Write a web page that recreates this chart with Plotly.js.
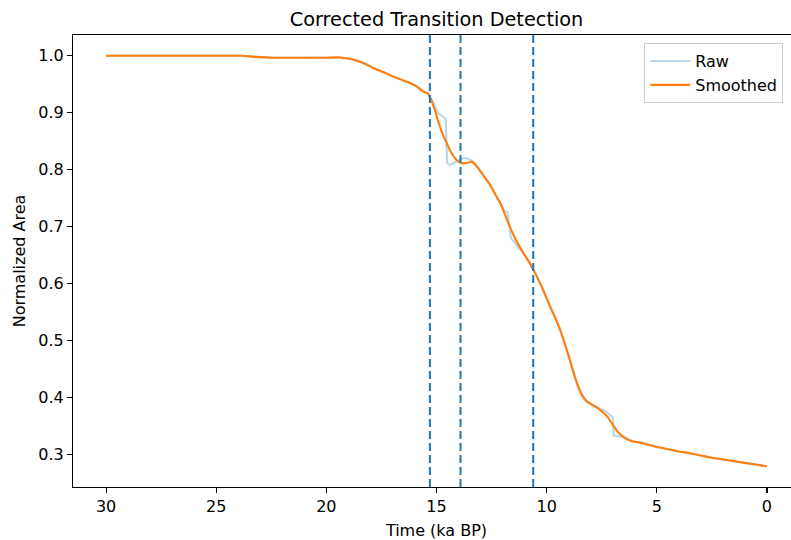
<!DOCTYPE html>
<html>
<head>
<meta charset="utf-8">
<script src="https://cdn.plot.ly/plotly-3.0.1.min.js"></script>
<style>
html,body{margin:0;padding:0;overflow:hidden;background:#fff;width:791px;height:540px;}
#chart{width:810px;height:540px;}
</style>
</head>
<body>
<div id="chart"></div>
<script>
// Time (ka BP), descending
const time = [30, 28, 26, 24, 23.8, 23.2, 22.4, 21, 20, 19.4, 19, 18.6, 18.2, 17.9, 17.4, 17.0, 16.6, 16.2, 15.9, 15.6, 15.4, 15.27, 15.1, 14.9, 14.7, 14.58, 14.52, 14.4, 14.2, 14.0, 13.8, 13.6, 13.4, 13.2, 13.0, 12.8, 12.6, 12.45, 12.3, 12.1, 11.9, 11.78, 11.62, 11.4, 11.2, 11.0, 10.8, 10.6, 10.4, 10.2, 10.0, 9.8, 9.6, 9.4, 9.2, 9.0, 8.8, 8.6, 8.4, 8.2, 8.0, 7.8, 7.6, 7.4, 7.2, 7.0, 6.95, 6.8, 6.6, 6.4, 6.2, 6.0, 5.8, 5.5, 5.2, 5.0, 4.5, 4.0, 3.5, 3.0, 2.5, 2.0, 1.5, 1.0, 0.5, 0];

const smoothed = [1.0, 1.0, 1.0, 1.0, 1.0, 0.998, 0.9965, 0.9965, 0.9965, 0.997, 0.995, 0.991, 0.985, 0.979, 0.971, 0.964, 0.958, 0.952, 0.946, 0.937, 0.934, 0.925, 0.908, 0.882, 0.860, 0.850, 0.845, 0.835, 0.822, 0.814, 0.811, 0.812, 0.814, 0.807, 0.797, 0.786, 0.775, 0.765, 0.754, 0.741, 0.722, 0.710, 0.695, 0.677, 0.663, 0.650, 0.638, 0.624, 0.609, 0.592, 0.574, 0.556, 0.539, 0.520, 0.497, 0.473, 0.446, 0.423, 0.405, 0.394, 0.388, 0.384, 0.379, 0.372, 0.364, 0.352, 0.349, 0.341, 0.333, 0.327, 0.324, 0.322, 0.321, 0.318, 0.315, 0.313, 0.309, 0.305, 0.302, 0.298, 0.294, 0.291, 0.288, 0.285, 0.282, 0.279];

const raw = [1.0, 1.0, 1.0, 1.0, 1.0, 0.998, 0.9965, 0.9965, 0.9965, 0.997, 0.995, 0.991, 0.985, 0.979, 0.971, 0.964, 0.958, 0.952, 0.946, 0.937, 0.934, 0.926, 0.912, 0.898, 0.893, 0.889, 0.812, 0.808, 0.812, 0.816, 0.820, 0.820, 0.816, 0.807, 0.797, 0.786, 0.775, 0.765, 0.754, 0.741, 0.726, 0.726, 0.680, 0.669, 0.660, 0.650, 0.638, 0.624, 0.609, 0.592, 0.574, 0.556, 0.539, 0.520, 0.497, 0.473, 0.446, 0.420, 0.400, 0.392, 0.390, 0.384, 0.380, 0.378, 0.372, 0.365, 0.333, 0.332, 0.331, 0.330, 0.325, 0.322, 0.321, 0.318, 0.315, 0.313, 0.309, 0.305, 0.302, 0.298, 0.294, 0.291, 0.288, 0.285, 0.282, 0.279];

// Detected transitions (ka BP)
const transitions = [15.3, 13.91, 10.61];

const xTicks = [30, 25, 20, 15, 10, 5, 0];
const yTicks = [0.3, 0.4, 0.5, 0.6, 0.7, 0.8, 0.9, 1.0];

const font = "DejaVu Sans, sans-serif";

const traces = [
  {x: time, y: raw, type: 'scatter', mode: 'lines', name: 'Raw',
   line: {color: 'rgba(31,119,180,0.3)', width: 2.1}},
  {x: time, y: smoothed, type: 'scatter', mode: 'lines', name: 'Smoothed',
   line: {color: '#ff7f0e', width: 2.1, shape: 'spline', smoothing: 0.4}}
];

const shapes = transitions.map(t => ({
  type: 'line', xref: 'x', yref: 'paper', x0: t, x1: t, y0: 0, y1: 1,
  line: {color: '#1f77b4', width: 2, dash: '8px,4px'}
}));

const axisCommon = {
  showgrid: false, zeroline: false, showline: true, mirror: true,
  linecolor: '#000', linewidth: 1.1, ticks: 'outside', ticklen: 5, tickwidth: 1.1,
  tickcolor: '#000', tickfont: {family: font, size: 16, color: '#000'}
};

const layout = {
  width: 810, height: 540,
  margin: {l: 73, r: 10, t: 35, b: 53},
  paper_bgcolor: '#fff', plot_bgcolor: '#fff',
  font: {family: font, color: '#000'},
  title: {text: 'Corrected Transition Detection', font: {family: font, size: 19.3, color: '#000'},
          x: 0.5, xref: 'paper', y: 1 - 19/540, yref: 'container', yanchor: 'middle'},
  xaxis: Object.assign({}, axisCommon, {
    range: [31.5, -1.5], tickvals: xTicks, ticktext: xTicks.map(String),
    title: {text: 'Time (ka BP)', font: {family: font, size: 16, color: '#000'}, standoff: 9}
  }),
  yaxis: Object.assign({}, axisCommon, {
    range: [0.2426, 1.0364], tickvals: yTicks, ticktext: yTicks.map(v => v.toFixed(1)),
    title: {text: 'Normalized Area', font: {family: font, size: 16, color: '#000'}, standoff: 8}
  }),
  showlegend: true,
  legend: {x: 0.977, xanchor: 'right', y: 0.982, yanchor: 'top', xref: 'paper', yref: 'paper',
           bgcolor: 'rgba(255,255,255,0.8)', bordercolor: '#cccccc', borderwidth: 1,
           itemwidth: 40, tracegroupgap: 0,
           font: {family: font, size: 16, color: '#000'}},
  shapes: shapes
};

Plotly.newPlot('chart', traces, layout, {displayModeBar: false, staticPlot: true});
</script>
</body>
</html>
